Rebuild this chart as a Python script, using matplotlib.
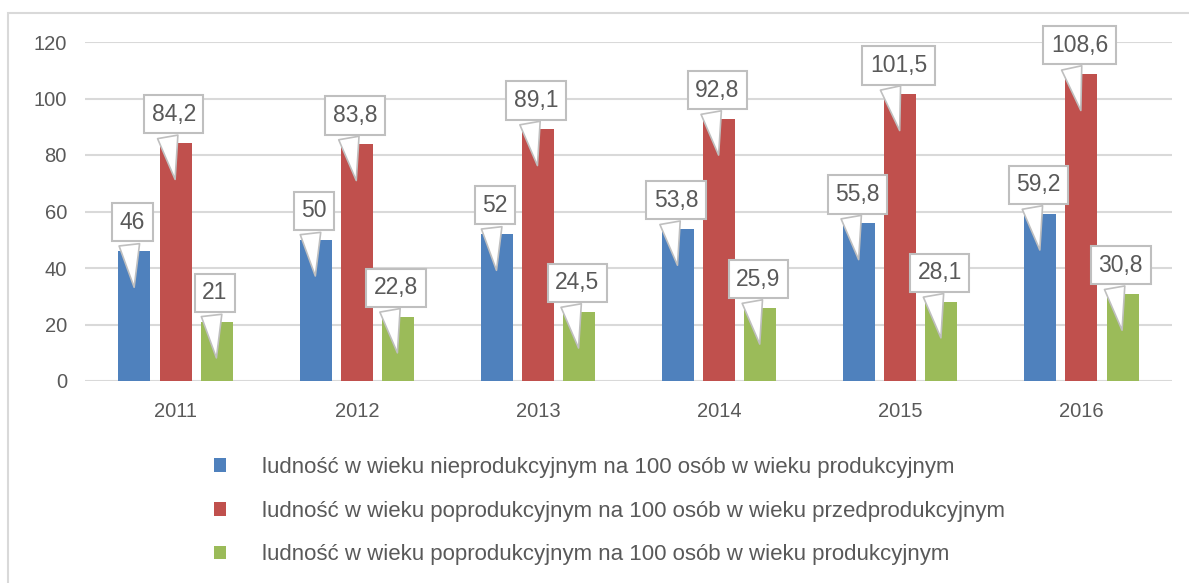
import matplotlib
matplotlib.use('Agg')
from matplotlib import pyplot as plt
from matplotlib.patches import Rectangle
import numpy as np

years = ['2011', '2012', '2013', '2014', '2015', '2016']
nieprod = [46, 50, 52, 53.8, 55.8, 59.2]
poprod_przed = [84.2, 83.8, 89.1, 92.8, 101.5, 108.6]
poprod_prod = [21, 22.8, 24.5, 25.9, 28.1, 30.8]
labels = ['ludność w wieku nieprodukcyjnym na 100 osób w wieku produkcyjnym',
          'ludność w wieku poprodukcyjnym na 100 osób w wieku przedprodukcyjnym',
          'ludność w wieku poprodukcyjnym na 100 osób w wieku produkcyjnym']
colors = ['#4f81bd', '#c0504d', '#9bbb59']

plt.rcParams['font.family'] = ['Liberation Sans', 'DejaVu Sans']
txt = '#595959'

fig = plt.figure(figsize=(11.89, 5.83), dpi=100)
ax = fig.add_axes([85/1189, 1-381/583, (1172-85)/1189, (381-42)/583])

x = np.arange(len(years))
step = 0.227
width = 0.177
series = [nieprod, poprod_przed, poprod_prod]
for k, (vals, c, lab) in enumerate(zip(series, colors, labels)):
    xs = x + (k-1)*step
    ax.bar(xs, vals, width, color=c, label=lab, zorder=2)
    for xi, v in zip(xs, vals):
        s = ('%g' % v).replace('.', ',')
        ax.annotate(s, xy=(xi, v-13.8), xytext=(xi-0.01, v+10.2),
                    ha='center', va='center', fontsize=16.5, color=txt, zorder=5,
                    bbox=dict(boxstyle='square,pad=0.33', fc='white', ec='#bfbfbf', lw=1.5),
                    arrowprops=dict(arrowstyle='wedge,tail_width=0.9,shrink_factor=0.5',
                                    fc='white', ec='#bfbfbf', lw=1.2,
                                    relpos=(0.32, 0.0)))

ax.set_xlim(-0.5, 5.5)
ax.set_ylim(0, 120)
ax.set_yticks(range(0, 121, 20))
ax.set_xticks(x)
ax.set_xticklabels(years)
ax.grid(axis='y', color='#d9d9d9', lw=1.5, zorder=0)
for sp in ax.spines.values():
    sp.set_visible(False)
ax.tick_params(length=0, labelsize=14.5, colors=txt)
ax.tick_params(axis='y', pad=13)
ax.tick_params(axis='x', pad=15)

leg = fig.legend(loc='upper left', bbox_to_anchor=(194/1189, 1-437/583), frameon=False,
                 fontsize=16, labelcolor=txt, handlelength=0.55, handleheight=0.55,
                 handletextpad=1.6, labelspacing=1.02)

# outer frame
fig.patches.append(Rectangle((8/1189, -0.01), 1.0, 1-13/583+0.01, transform=fig.transFigure,
                             fill=False, ec='#d9d9d9', lw=1.5))

fig.savefig('out.png', dpi=100)
